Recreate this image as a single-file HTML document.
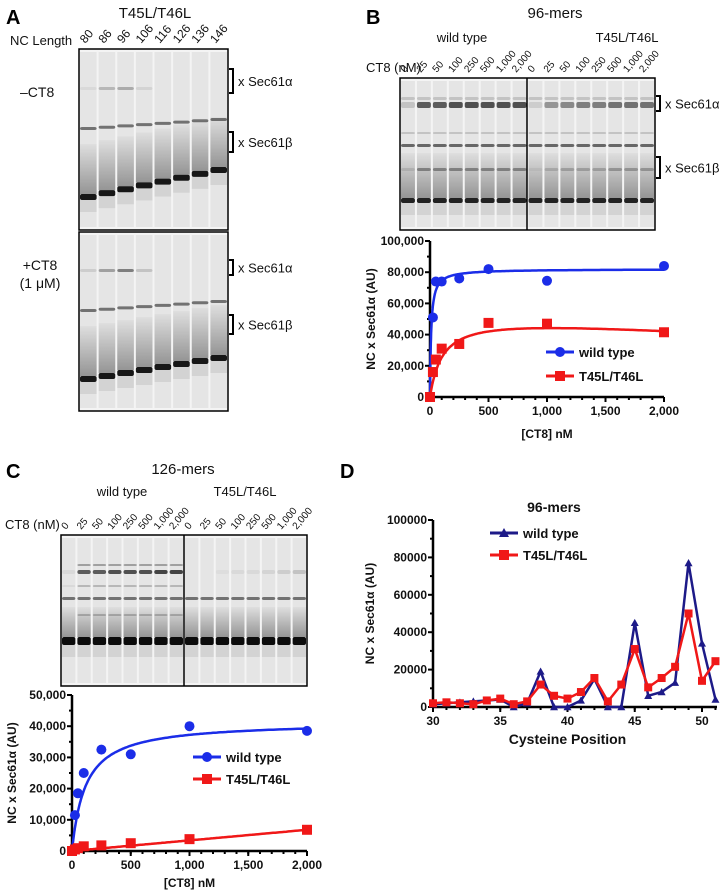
<!DOCTYPE html>
<html><head><meta charset="utf-8"><style>
html,body{margin:0;padding:0;background:#fff;}
svg{display:block;}
.lbl{font-family:"Liberation Sans",sans-serif;font-size:13px;fill:#111;}
.pl{font-family:"Liberation Sans",sans-serif;font-weight:bold;font-size:20px;fill:#000;}
.ax{font-family:"Liberation Sans",sans-serif;font-weight:bold;font-size:12px;fill:#111;}
</style></head><body>
<svg id="fig" width="722" height="893" viewBox="0 0 722 893" xmlns="http://www.w3.org/2000/svg">
<defs>
<linearGradient id="smearA" x1="0" y1="0" x2="0" y2="1"><stop offset="0" stop-color="#000" stop-opacity="0.03"/><stop offset="1" stop-color="#000" stop-opacity="0.35"/></linearGradient>
</defs>
<text class="pl" x="6" y="24">A</text>
<text class="pl" x="366" y="24">B</text>
<text class="pl" x="6" y="478">C</text>
<text class="pl" x="340" y="478">D</text>
<g id="gels"></g>
<g id="charts"></g>
</svg>
<script>
// ---------- chart data ----------
const bConc = [0, 25, 50, 100, 250, 500, 1000, 2000];
const bWild = [0, 51000, 74000, 74000, 76000, 82000, 74500, 84000];
const bMut = [0, 16000, 24000, 31000, 34000, 47500, 47000, 41500];
const bYTicks = [0, 20000, 40000, 60000, 80000, 100000];
const bXTicks = [0, 500, 1000, 1500, 2000];

const cConc = [0, 25, 50, 100, 250, 500, 1000, 2000];
const cWild = [0, 11500, 18500, 25000, 32500, 31000, 40000, 38500];
const cMut = [0, 500, 900, 1500, 1800, 2500, 3800, 6800];
const cYTicks = [0, 10000, 20000, 30000, 40000, 50000];
const cXTicks = [0, 500, 1000, 1500, 2000];

const dPos = [30,31,32,33,34,35,36,37,38,39,40,41,42,43,44,45,46,47,48,49,50,51];
const dWild = [1500,2000,2500,3000,3500,4000,0,2000,19000,0,0,3500,15000,0,0,45000,6000,8000,13000,77000,34000,4000];
const dMut = [2000,2500,2000,1500,3500,4500,1500,3000,12000,6000,4500,8000,15500,3000,12000,31000,10500,15500,21500,50000,14000,24500];
const dYTicks = [0, 20000, 40000, 60000, 80000, 100000];
const dXTicks = [30, 35, 40, 45, 50];

const lanesA = ['80','86','96','106','116','126','136','146'];
const lanesConc = ['0','25','50','100','250','500','1,000','2,000'];

const NS = 'http://www.w3.org/2000/svg';
function mk(tag, attrs, parent, text){
  const e = document.createElementNS(NS, tag);
  for (const k in attrs) e.setAttribute(k, attrs[k]);
  if (text !== undefined) e.textContent = text;
  parent.appendChild(e); return e;
}
const gels = document.getElementById('gels');
const charts = document.getElementById('charts');

function txt(x,y,s,cls,parent,anchor,name,fs){
  const t = mk('text',{x:x,y:y,'class':cls,'text-anchor':anchor||'start'},parent,s);
  if(fs) t.style.fontSize = fs+'px';
  
  
  return t;
}
function bracket(x,y1,y2,label,parent,name){
  const g = mk('g',{},parent);
  
  
  mk('path',{d:`M${x} ${y1}H${x+4}V${y2}H${x}`,fill:'none',stroke:'#000','stroke-width':2},g);
  mk('text',{x:x+9,y:(y1+y2)/2+5,'class':'lbl'},g,label);
}

function gel(x,y,w,h,n,bands,divider,name){
  const g = mk('g',{},gels);
  
  
  mk('rect',{x:x,y:y,width:w,height:h,fill:'#f4f4f4'},g);
  const lw = w/n;
  for(let i=0;i<n;i++){
    const lx = x+i*lw+1, lww = lw-2;
    mk('rect',{x:lx,y:y+3,width:lww,height:h-6,fill:'#000','fill-opacity':0.06},g);
    bands.forEach(b=>{
      const t = n>1? i/(n-1):0;
      const by = b.y0+(b.y1-b.y0)*t;
      const op = b.lanes? b.lanes[i] : b.op;
      if(op>0){
        if(b.smear){
          mk('rect',{x:lx,y:by-b.smear,width:lww,height:b.smear,fill:'url(#smearA)'},g);
          mk('rect',{x:lx,y:by+b.h,width:lww,height:12,fill:'#000','fill-opacity':0.08},g);
        }
        mk('rect',{x:lx,y:by,width:lww,height:b.h,fill:'#000','fill-opacity':op,rx:2},g);
      }
    });
  }
  if(divider) mk('line',{x1:divider,y1:y,x2:divider,y2:y+h,stroke:'#000','stroke-width':1.5},g);
  mk('rect',{x:x,y:y,width:w,height:h,fill:'none',stroke:'#000','stroke-width':1.5},g);
}
function laneLabels(x0,lw,n,baseY,fs,labels,name){
  for(let i=0;i<n;i++){
    const cx = x0+(i+0.5)*lw - 3;
    const t = mk('text',{x:cx,y:baseY,'class':'lbl',transform:`rotate(-50 ${cx} ${baseY})`},gels,labels[i%labels.length]);
    t.style.fontSize = fs+'px';
    
    
  }
}

// ---- Panel A ----
txt(155,18,'T45L/T46L','lbl',gels,'middle','panel-a-title',15);
txt(10,45,'NC Length','lbl',gels,'start','nc-length-label',13);
laneLabels(79,18.6,8,44,12,lanesA,'lane-label-a');
txt(20,97,'\u2013CT8','lbl',gels,'start','minus-ct8-label',14);
txt(40,270,'+CT8','lbl',gels,'middle','plus-ct8-label',14);
txt(40,288,'(1 \u03bcM)','lbl',gels,'middle','ct8-conc-label',14);
gel(79,49,149,181,8,[
  {y0:87,y1:87,h:3,lanes:[0.05,0.2,0.25,0.08,0,0,0,0]},
  {y0:127,y1:118,h:3,op:0.5},
  {y0:194,y1:167,h:6,op:0.9,smear:50},
],null,'gel-a-minus');
gel(79,232,149,179,8,[
  {y0:269,y1:269,h:3,lanes:[0.1,0.3,0.45,0.15,0,0,0,0]},
  {y0:309,y1:300,h:3,op:0.5},
  {y0:376,y1:355,h:6,op:0.9,smear:50},
],null,'gel-a-plus');
bracket(229,69,93,'x Sec61\u03b1',gels,'bracket-a-alpha1');
bracket(229,132,152,'x Sec61\u03b2',gels,'bracket-a-beta1');
bracket(229,260,275,'x Sec61\u03b1',gels,'bracket-a-alpha2');
bracket(229,315,334,'x Sec61\u03b2',gels,'bracket-a-beta2');

// ---- Panel B gel ----
txt(555,18,'96-mers','lbl',gels,'middle','panel-b-title',15);
txt(462,42,'wild type','lbl',gels,'middle','b-wild-type-label',13);
txt(627,42,'T45L/T46L','lbl',gels,'middle','b-mutant-label',13);
txt(366,72,'CT8 (nM)','lbl',gels,'start','b-ct8-label',13);
laneLabels(400,15.9,16,73,10,lanesConc,'lane-label-b');
gel(400,78,255,152,16,[
  {y0:97,y1:97,h:3,op:0.15},
  {y0:102,y1:102,h:6,lanes:[0.15,0.6,0.6,0.65,0.65,0.65,0.65,0.65,0.1,0.35,0.4,0.45,0.45,0.5,0.5,0.5]},
  {y0:132,y1:132,h:2,op:0.15},
  {y0:144,y1:144,h:3,op:0.55},
  {y0:168,y1:168,h:3,lanes:[0.1,0.35,0.35,0.35,0.35,0.35,0.35,0.35,0.05,0.15,0.2,0.2,0.2,0.25,0.25,0.25]},
  {y0:198,y1:198,h:5,op:0.85,smear:45},
],527,'gel-b');
bracket(656,96,111,'x Sec61\u03b1',gels,'bracket-b-alpha');
bracket(656,157,178,'x Sec61\u03b2',gels,'bracket-b-beta');

// ---- Panel C gel ----
txt(183,474,'126-mers','lbl',gels,'middle','panel-c-title',15);
txt(122,496,'wild type','lbl',gels,'middle','c-wild-type-label',13);
txt(245,496,'T45L/T46L','lbl',gels,'middle','c-mutant-label',13);
txt(5,529,'CT8 (nM)','lbl',gels,'start','c-ct8-label',13);
laneLabels(61,15.4,16,530,10,lanesConc,'lane-label-c');
gel(61,535,246,151,16,[
  {y0:564,y1:564,h:2,lanes:[0,0.3,0.3,0.3,0.3,0.3,0.3,0.3,0,0,0,0,0,0,0,0]},
  {y0:570,y1:570,h:4,lanes:[0.05,0.6,0.6,0.65,0.65,0.65,0.7,0.7,0,0,0.03,0.05,0.05,0.07,0.1,0.15]},
  {y0:585,y1:585,h:2,lanes:[0.05,0.2,0.2,0.2,0.2,0.2,0.2,0.2,0,0,0,0,0,0,0,0]},
  {y0:597,y1:597,h:3,op:0.5},
  {y0:614,y1:614,h:2,lanes:[0,0.2,0.2,0.2,0.2,0.2,0.2,0.2,0,0,0,0,0,0,0,0]},
  {y0:637,y1:637,h:8,op:0.95,smear:30},
],184,'gel-c');

// ---------- charts ----------
function axes(o){
  const g = mk('g',{},charts);
  
  
  const sx = v => o.x0 + (v-o.xmin)/(o.xmax-o.xmin)*(o.x1-o.x0);
  const sy = v => o.y0 - (v-o.ymin)/(o.ymax-o.ymin)*(o.y0-o.y1);
  mk('line',{x1:o.x0,y1:o.y0,x2:o.x1end||o.x1,y2:o.y0,stroke:'#000','stroke-width':2.5},g);
  mk('line',{x1:o.x0,y1:o.y0,x2:o.x0,y2:o.y1,stroke:'#000','stroke-width':2.5},g);
  o.yt.forEach(v=>{
    mk('line',{x1:o.x0-5,y1:sy(v),x2:o.x0,y2:sy(v),stroke:'#000','stroke-width':2},g);
    mk('text',{x:o.x0-6,y:sy(v)+4,'class':'ax','text-anchor':'end'},g,o.yfmt(v));
  });
  for(let i=0;i<o.yt.length-1;i++){
    const m = (o.yt[i]+o.yt[i+1])/2;
    mk('line',{x1:o.x0-3,y1:sy(m),x2:o.x0,y2:sy(m),stroke:'#000','stroke-width':2},g);
  }
  for(let v=o.xmin; v<= (o.xend||o.xmax)+1e-9; v+=o.xminor){
    mk('line',{x1:sx(v),y1:o.y0,x2:sx(v),y2:o.y0+3,stroke:'#000','stroke-width':2},g);
  }
  o.xt.forEach(v=>{
    mk('line',{x1:sx(v),y1:o.y0,x2:sx(v),y2:o.y0+5,stroke:'#000','stroke-width':2},g);
    mk('text',{x:sx(v),y:o.y0+18,'class':'ax','text-anchor':'middle'},g,o.xfmt(v));
  });
  const yt = mk('text',{x:0,y:0,'class':'ax','text-anchor':'middle',transform:`translate(${o.ytx},${(o.y0+o.y1)/2}) rotate(-90)`},g,'NC x Sec61\u03b1 (AU)');
  
  
  const xt = mk('text',{x:(o.x0+o.x1)/2,y:o.xty,'class':'ax','text-anchor':'middle'},g,o.xtitle);
  xt.style.fontSize = (o.xtfs||12)+'px';
  
  
  return {g,sx,sy};
}
const comma = v => v.toLocaleString('en-US');
const BLUE='#1b2de8', RED='#f01818', NAVY='#1d1a88';

function curve(ax,f,xmax,color){
  let d='';
  for(let i=0;i<=200;i++){const x=xmax*Math.pow(i/200,2); d+=(i?'L':'M')+ax.sx(x).toFixed(1)+' '+ax.sy(f(x)).toFixed(1);}
  const p = mk('path',{d:d,fill:'none',stroke:color,'stroke-width':2.5},ax.g);
  
  
}
function dots(ax,xs,ys,color,shape,r){
  xs.forEach((x,i)=>{
    const cx=ax.sx(x), cy=ax.sy(ys[i]); let e;
    if(shape==='c') e=mk('circle',{cx:cx,cy:cy,r:r,fill:color},ax.g);
    else if(shape==='s') e=mk('rect',{x:cx-r,y:cy-r,width:2*r,height:2*r,fill:color},ax.g);
    else e=mk('path',{d:`M${cx} ${cy-r}L${cx+r} ${cy+r*0.8}L${cx-r} ${cy+r*0.8}Z`,fill:color},ax.g);
    
    
  });
}
function poly(ax,xs,ys,color){
  const d = xs.map((x,i)=>(i?'L':'M')+ax.sx(x).toFixed(1)+' '+ax.sy(ys[i]).toFixed(1)).join('');
  const p = mk('path',{d:d,fill:'none',stroke:color,'stroke-width':2.5},ax.g);
  
  
}
function legend(g,x,y,color,shape,label,name){
  const lg = mk('g',{},g);
  
  
  mk('line',{x1:x,y1:y,x2:x+28,y2:y,stroke:color,'stroke-width':3},lg);
  if(shape==='c') mk('circle',{cx:x+14,cy:y,r:5,fill:color},lg);
  else if(shape==='s') mk('rect',{x:x+9,y:y-5,width:10,height:10,fill:color},lg);
  else mk('path',{d:`M${x+14} ${y-5}L${x+19} ${y+4}L${x+9} ${y+4}Z`,fill:color},lg);
  const t = mk('text',{x:x+33,y:y+5,'class':'ax'},lg,label);
  t.style.fontSize='13px';
}

// B chart
const axB = axes({name:'chart-b',x0:430,x1:664,y0:397,y1:241,xmin:0,xmax:2000,ymin:0,ymax:100000,
  yt:bYTicks,xt:bXTicks,xminor:100,yfmt:comma,xfmt:comma,ytx:375,xty:438,xtitle:'[CT8] nM'});
curve(axB,x=>82000*x/(x+10),2000,BLUE);
curve(axB,x=>54000*x/(x+110)-4.5*x,2000,RED);
dots(axB,bConc,bWild,BLUE,'c',5);
dots(axB,bConc,bMut,RED,'s',5);
legend(axB.g,546,352,BLUE,'c','wild type','legend-wild-type-b');
legend(axB.g,546,376,RED,'s','T45L/T46L','legend-mutant-b');

// C chart
const axC = axes({name:'chart-c',x0:72,x1:307,y0:851,y1:695,xmin:0,xmax:2000,ymin:0,ymax:50000,
  yt:cYTicks,xt:cXTicks,xminor:100,yfmt:comma,xfmt:comma,ytx:16,xty:887,xtitle:'[CT8] nM'});
curve(axC,x=>41500*x/(x+115),2000,BLUE);
curve(axC,x=>3.4*x,2000,RED);
dots(axC,cConc,cWild,BLUE,'c',5);
dots(axC,cConc,cMut,RED,'s',5);
legend(axC.g,193,757,BLUE,'c','wild type','legend-wild-type-c');
legend(axC.g,193,779,RED,'s','T45L/T46L','legend-mutant-c');

// D chart
const axD = axes({name:'chart-d',x0:433,x1:702,x1end:717,y0:707,y1:520,xmin:30,xmax:50,xend:51,ymin:0,ymax:100000,
  yt:dYTicks,xt:dXTicks,xminor:1,yfmt:v=>String(v),xfmt:v=>String(v),ytx:374,xty:744,xtitle:'Cysteine Position',xtfs:14});
poly(axD,dPos,dWild,NAVY);
dots(axD,dPos,dWild,NAVY,'t',4);
poly(axD,dPos,dMut,RED);
dots(axD,dPos,dMut,RED,'s',4);
txt(554,512,'96-mers','ax',axD.g,'middle','panel-d-title',14);
legend(axD.g,490,533,NAVY,'t','wild type','legend-wild-type-d');
legend(axD.g,490,555,RED,'s','T45L/T46L','legend-mutant-d');
</script>
</body></html>
